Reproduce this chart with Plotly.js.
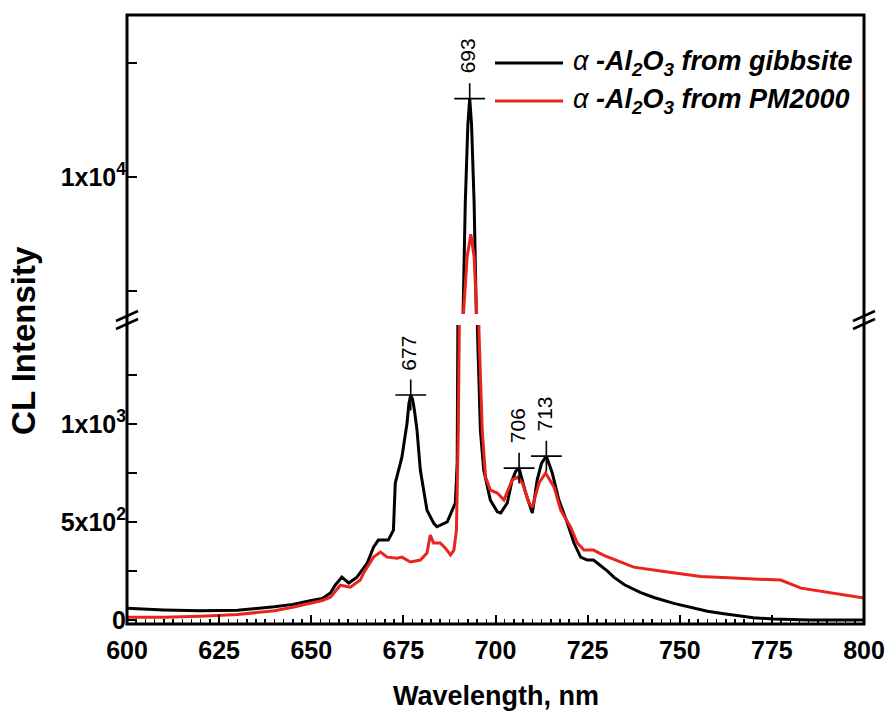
<!DOCTYPE html>
<html>
<head>
<meta charset="utf-8">
<script src="https://cdn.plot.ly/plotly-3.0.1.min.js"></script>
<style>html,body{margin:0;padding:0;background:#fff;}#chart{width:887px;height:711px;}</style>
</head>
<body>
<div id="chart"></div>
<script>
// ---- Data ----
const wlGibbsite = [600, 610, 620, 630, 640, 645, 650, 653, 655.2, 656.5, 658.3, 660.2, 662.4, 665.2, 666.9, 668.2, 670.9, 672.3, 672.8, 673.7, 674.6, 676, 676.5, 677, 677.5, 678, 678.7, 679.6, 681.4, 683.2, 684.1, 686.9, 689.1, 689.6, 690, 690.6, 691.2, 691.8, 692.5, 693, 693.5, 694.2, 694.8, 695.1, 695.9, 696.8, 698.6, 700.5, 701.4, 703.2, 704.5, 705.5, 706.4, 707.2, 708.2, 710, 711.3, 712.5, 713.8, 715.4, 717.2, 719.5, 721.3, 723.1, 724.9, 726.6, 728.5, 730.4, 732.1, 735, 739.4, 743, 748.4, 752, 757.5, 762, 766.6, 770, 775.5, 780, 785, 790, 800];
const intGibbsite = [60, 52, 48, 50, 68, 80, 100, 110, 138, 178, 219, 189, 219, 291, 372, 408, 408, 459, 699, 765, 831, 1005, 1105, 1148, 1125, 1070, 969, 765, 561, 495, 476, 501, 597, 800, 1479, 2600, 4000, 8860, 12300, 13435, 12300, 8860, 4000, 1479, 969, 765, 612, 552, 546, 597, 714, 760, 775, 720, 648, 546, 714, 800, 836, 750, 612, 495, 393, 321, 306, 306, 280, 250, 219, 180, 140, 115, 85, 68, 45, 32, 20, 12, 5, 2, 0, 0, 0];

const wlPM2000 = [600, 610, 620, 630, 640, 645, 650, 653, 655.2, 657.9, 660.6, 663.3, 664.2, 666.9, 668.8, 670.6, 673.3, 674.6, 676.9, 679.6, 681.4, 682.3, 683.2, 685, 686.4, 687.8, 688.7, 689.4, 689.9, 690.3, 691.3, 692.3, 693.3, 694.2, 694.9, 695.5, 696.4, 697.3, 698.6, 700.5, 702.3, 704.5, 705.9, 707.3, 709.1, 710, 711.8, 713.6, 715.9, 717.7, 720.4, 722.2, 724, 726.6, 729.4, 732.1, 737.5, 746.7, 755.7, 764.7, 773.9, 777.4, 782.9, 791.8, 800];
const intPM2000 = [15, 15, 20, 28, 48, 65, 87, 100, 117, 178, 168, 204, 240, 321, 347, 321, 316, 321, 296, 306, 342, 434, 393, 393, 367, 332, 357, 459, 969, 1479, 4000, 6500, 7500, 6500, 4000, 1479, 969, 729, 663, 648, 612, 714, 729, 699, 597, 576, 699, 750, 678, 561, 474, 393, 357, 357, 330, 310, 270, 245, 222, 214, 204, 204, 163, 138, 112];

const peakWlLow = [677, 706.4, 713.8];
const peakIntLow = [1148, 775, 836];
const peakLabelsLow = ['677', '706', '713'];
const peakWlHigh = [693];
const peakIntHigh = [13435];
const peakLabelsHigh = ['693'];

const xTicks = [600, 625, 650, 675, 700, 725, 750, 775, 800];
const yLowTicks = [0, 250, 500, 750, 1000, 1250];
const yLowText = ['0', '', '5x10<sup>2</sup>', '', '1x10<sup>3</sup>', ''];
const yHighTicks = [5000, 10000, 15000];
const yHighText = ['', '1x10<sup>4</sup>', ''];

const seriesNames = ['α -Al2O3 from gibbsite', 'α -Al2O3 from PM2000'];
const colors = ['#000000', '#e8241c'];

// ---- Traces ----
const FONT = 'Liberation Sans, Arial, sans-serif';
const lineG = {color: colors[0], width: 3};
const lineP = {color: colors[1], width: 3};
const traces = [
  {x: wlGibbsite, y: intGibbsite, xaxis: 'x', yaxis: 'y', mode: 'lines', line: lineG, name: seriesNames[0], showlegend: false},
  {x: wlGibbsite, y: intGibbsite, xaxis: 'x', yaxis: 'y2', mode: 'lines', line: lineG, name: seriesNames[0], showlegend: false},
  {x: wlPM2000, y: intPM2000, xaxis: 'x', yaxis: 'y', mode: 'lines', line: lineP, name: seriesNames[1], showlegend: false},
  {x: wlPM2000, y: intPM2000, xaxis: 'x', yaxis: 'y2', mode: 'lines', line: lineP, name: seriesNames[1], showlegend: false},
  {x: peakWlLow, y: peakIntLow, xaxis: 'x', yaxis: 'y', mode: 'markers', showlegend: false,
   marker: {symbol: 'cross-thin', size: 22, line: {color: '#000', width: 1.6}}},
  {x: peakWlHigh, y: peakIntHigh, xaxis: 'x', yaxis: 'y2', mode: 'markers', showlegend: false,
   marker: {symbol: 'cross-thin', size: 22, line: {color: '#000', width: 1.6}}}
];

// ---- Annotations ----
const annotations = [];
peakWlLow.forEach((w, i) => annotations.push({x: w, y: peakIntLow[i], xref: 'x', yref: 'y', text: peakLabelsLow[i],
  showarrow: false, textangle: -90, yshift: 42, xshift: -2, font: {family: FONT, size: 21, color: '#000'}}));
peakWlHigh.forEach((w, i) => annotations.push({x: w, y: peakIntHigh[i], xref: 'x', yref: 'y2', text: peakLabelsHigh[i],
  showarrow: false, textangle: -90, yshift: 43, xshift: -2, font: {family: FONT, size: 21, color: '#000'}}));

// axis titles
annotations.push({xref: 'paper', yref: 'paper', x: 0.5, y: -0.09, yanchor: 'top', showarrow: false,
  text: '<b>Wavelength, nm</b>', font: {family: FONT, size: 27, color: '#000'}});
annotations.push({xref: 'paper', yref: 'paper', x: -0.168, y: 0.466, showarrow: false, textangle: -90,
  text: '<b>CL Intensity</b>', font: {family: FONT, size: 33, color: '#000'}});

// legend (manual)
const legY = [(624 - 63) / 609, (624 - 101) / 609];
const legX0 = (495 - 127) / 737, legX1 = (563 - 127) / 737, legTx = (571 - 127) / 737;
const legTexts = [
  '<i>α</i> <b><i>-Al<sub>2</sub>O<sub>3</sub> from gibbsite</i></b>',
  '<i>α</i> <b><i>-Al<sub>2</sub>O<sub>3</sub> from PM2000</i></b>'
];
legTexts.forEach((t, i) => annotations.push({xref: 'paper', yref: 'paper', x: legTx, y: legY[i], xanchor: 'left', yanchor: 'middle',
  showarrow: false, text: t, font: {family: FONT, size: 27, color: '#000'}}));

// ---- Shapes: frame, break marks, legend lines ----
const shapes = [
  {type: 'rect', xref: 'paper', yref: 'paper', x0: 0, x1: 1, y0: 0, y1: 1, line: {color: '#000', width: 3}},
];
function px2paper(px, py) { return [(px - 127) / 737, (624 - py) / 609]; }
[127, 864].forEach(cx => {
  [-4, 4].forEach(off => {
    const a = px2paper(cx - 11, 320 + off + 5), b = px2paper(cx + 11, 320 + off - 5);
    shapes.push({type: 'line', xref: 'paper', yref: 'paper', x0: a[0], y0: a[1], x1: b[0], y1: b[1], line: {color: '#000', width: 2.5}});
  });
});
legY.forEach((y, i) => shapes.push({type: 'line', xref: 'paper', yref: 'paper', x0: legX0, x1: legX1, y0: y, y1: y,
  line: {color: colors[i], width: 3}}));

const tickFont = {family: FONT, size: 25, color: '#000', weight: 700};
const layout = {
  width: 887, height: 711,
  margin: {l: 127, r: 23, t: 15, b: 87},
  paper_bgcolor: '#fff', plot_bgcolor: '#fff',
  showlegend: false,
  xaxis: {range: [600, 800], tickmode: 'array', tickvals: xTicks, ticks: 'inside', ticklen: 9, tickwidth: 2, tickcolor: '#000',
    minor: {dtick: 2.5, tick0: 600, ticks: 'inside', ticklen: 5, tickwidth: 1.5, tickcolor: '#000'},
    ticklabelstandoff: 9,
    showgrid: false, zeroline: false, showline: false, tickfont: tickFont, anchor: 'y'},
  yaxis: {domain: [0, 0.491], range: [-20, 1505], tickmode: 'array', tickvals: yLowTicks, ticktext: yLowText,
    ticks: 'inside', ticklen: 10, tickwidth: 2, tickcolor: '#000', showgrid: false, zeroline: false, showline: false,
    tickfont: tickFont, anchor: 'x'},
  yaxis2: {domain: [0.509, 1], range: [4000, 17100], tickmode: 'array', tickvals: yHighTicks, ticktext: yHighText,
    ticks: 'inside', ticklen: 10, tickwidth: 2, tickcolor: '#000', showgrid: false, zeroline: false, showline: false,
    tickfont: tickFont, anchor: 'x'},
  annotations: annotations,
  shapes: shapes
};
Plotly.newPlot('chart', traces, layout, {staticPlot: true, displayModeBar: false});
</script>
</body>
</html>
